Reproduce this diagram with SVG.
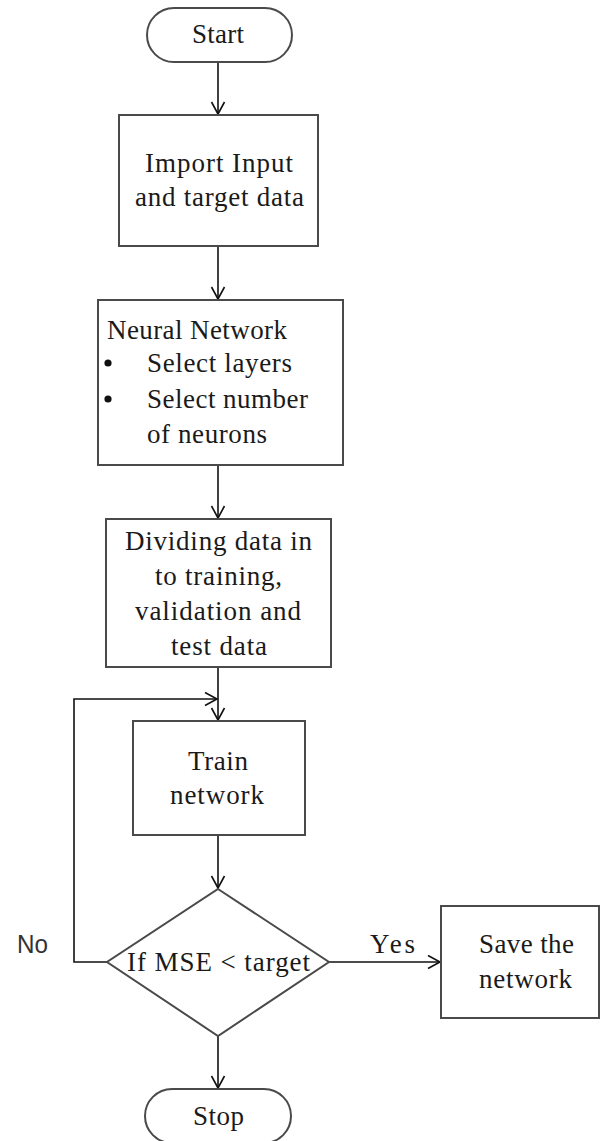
<svg xmlns="http://www.w3.org/2000/svg" width="604" height="1141" viewBox="0 0 604 1141">
  <style>
    .shape { fill: #ffffff; stroke: #4a4a4a; stroke-width: 2; }
    .lbl { font-family: "Liberation Serif", "Times New Roman", serif; font-size: 27px; fill: #1a1a1a; }
    .sans { font-family: "Liberation Sans", Arial, sans-serif; font-size: 25px; fill: #333333; }
    .wire { fill: none; stroke: #111111; stroke-width: 1.6; }
  </style>
  <defs>
    <marker id="head" markerUnits="userSpaceOnUse" markerWidth="16" markerHeight="16" refX="0" refY="0" viewBox="-14 -8 16 16" orient="auto" overflow="visible">
      <path d="M-12,-6.5 L0,0 L-12,6.5" fill="none" stroke="#111111" stroke-width="1.6"/>
    </marker>
  </defs>

  <rect width="604" height="1141" fill="#ffffff"/>

  <!-- connectors -->
  <g id="connectors">
    <line class="wire" x1="218" y1="62" x2="218" y2="114" marker-end="url(#head)"/>
    <line class="wire" x1="218" y1="246" x2="218" y2="299" marker-end="url(#head)"/>
    <line class="wire" x1="218" y1="465" x2="218" y2="518" marker-end="url(#head)"/>
    <line class="wire" x1="218" y1="667" x2="218" y2="720" marker-end="url(#head)"/>
    <line class="wire" x1="218" y1="835" x2="218" y2="888" marker-end="url(#head)"/>
    <line class="wire" x1="218" y1="1036" x2="218" y2="1088" marker-end="url(#head)"/>
    <line class="wire" x1="329" y1="962" x2="440" y2="962" marker-end="url(#head)"/>
    <polyline class="wire" points="107,962 74,962 74,699 217,699" marker-end="url(#head)"/>
    <text class="lbl" x="370" y="953" textLength="45" lengthAdjust="spacing">Yes</text>
    <text class="sans" x="17" y="953" textLength="31" lengthAdjust="spacingAndGlyphs">No</text>
  </g>

  <g id="start">
    <rect class="shape" x="147" y="8" width="145" height="54" rx="27" ry="27"/>
    <text class="lbl" x="192" y="43" textLength="52" lengthAdjust="spacing">Start</text>
  </g>

  <g id="import">
    <rect class="shape" x="119" y="115" width="199" height="131"/>
    <text class="lbl" x="145" y="172" textLength="148" lengthAdjust="spacing">Import Input</text>
    <text class="lbl" x="135" y="206" textLength="169" lengthAdjust="spacing">and target data</text>
  </g>

  <g id="neural">
    <rect class="shape" x="98" y="300" width="245" height="165"/>
    <text class="lbl" x="107" y="339" textLength="180" lengthAdjust="spacing">Neural Network</text>
    <circle cx="108" cy="363" r="3.6" fill="#111111"/>
    <text class="lbl" x="147" y="372" textLength="145" lengthAdjust="spacing">Select layers</text>
    <circle cx="108" cy="399" r="3.6" fill="#111111"/>
    <text class="lbl" x="147" y="408" textLength="161" lengthAdjust="spacing">Select number</text>
    <text class="lbl" x="147" y="443" textLength="120" lengthAdjust="spacing">of neurons</text>
  </g>

  <g id="divide">
    <rect class="shape" x="106" y="519" width="225" height="148"/>
    <text class="lbl" x="125" y="550" textLength="187" lengthAdjust="spacing">Dividing data in</text>
    <text class="lbl" x="155" y="585" textLength="127" lengthAdjust="spacing">to training,</text>
    <text class="lbl" x="135" y="620" textLength="166" lengthAdjust="spacing">validation and</text>
    <text class="lbl" x="171" y="655" textLength="96" lengthAdjust="spacing">test data</text>
  </g>

  <g id="train">
    <rect class="shape" x="133" y="721" width="172" height="114"/>
    <text class="lbl" x="188" y="770" textLength="60" lengthAdjust="spacing">Train</text>
    <text class="lbl" x="170" y="804" textLength="94" lengthAdjust="spacing">network</text>
  </g>

  <g id="decision">
    <polygon class="shape" points="218,889 329,962 218,1036 107,962"/>
    <text class="lbl" x="127" y="971" textLength="183" lengthAdjust="spacing">If MSE &lt; target</text>
  </g>

  <g id="save">
    <rect class="shape" x="441" y="906" width="158" height="112"/>
    <text class="lbl" x="479" y="953" textLength="95" lengthAdjust="spacing">Save the</text>
    <text class="lbl" x="479" y="988" textLength="93" lengthAdjust="spacing">network</text>
  </g>

  <g id="stop">
    <rect class="shape" x="145" y="1089" width="146" height="54" rx="27" ry="27"/>
    <text class="lbl" x="193" y="1125" textLength="51" lengthAdjust="spacing">Stop</text>
  </g>
</svg>
